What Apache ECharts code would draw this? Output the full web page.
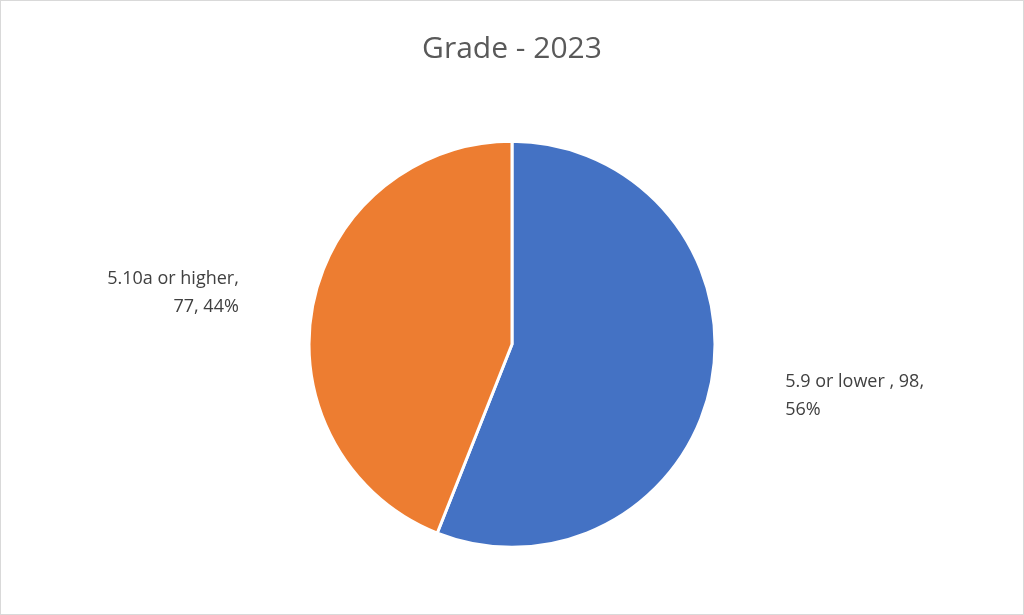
<!DOCTYPE html>
<html>
<head>
<meta charset="UTF-8">
<script src="https://cdn.jsdelivr.net/npm/echarts@6/dist/echarts.min.js"></script>
<style>
  html, body { margin: 0; padding: 0; background: #fff; }
  #chart { width: 1022px; height: 613px; border: 1px solid #d9d9d9; }
</style>
</head>
<body>
<div id="chart"></div>
<script>
// data
var categories = ['5.9 or lower ', '5.10a or higher'];
var counts = [98, 77];
var colors = ['#4472c4', '#ed7d31'];

var chart = echarts.init(document.getElementById('chart'));
var total = counts[0] + counts[1];

chart.setOption({
  title: {
    text: 'Grade - 2023',
    left: 'center',
    top: 28,
    textStyle: { fontFamily: 'Open Sans', fontWeight: 'normal', fontSize: 30, color: '#595959' }
  },
  series: [{
    type: 'pie',
    center: ['50%', '56%'],
    radius: 203,
    startAngle: 90,
    clockwise: true,
    data: categories.map(function (c, i) {
      return { name: c, value: counts[i], itemStyle: { color: colors[i] } };
    }),
    itemStyle: { borderColor: '#fff', borderWidth: 3 },
    label: {
      position: 'outside',
      fontFamily: 'Open Sans',
      fontSize: 18,
      lineHeight: 28,
      color: '#404040',
      align: 'center',
      formatter: function (p) {
        var pct = Math.round(p.value / total * 100) + '%';
        return p.dataIndex === 0
          ? p.name + ', ' + p.value + ',\n' + pct
          : p.name + ',\n' + p.value + ', ' + pct;
      }
    },
    labelLine: { show: false, length: 70, length2: 0 },
    emphasis: { scale: false }
  }]
});
</script>
</body>
</html>
